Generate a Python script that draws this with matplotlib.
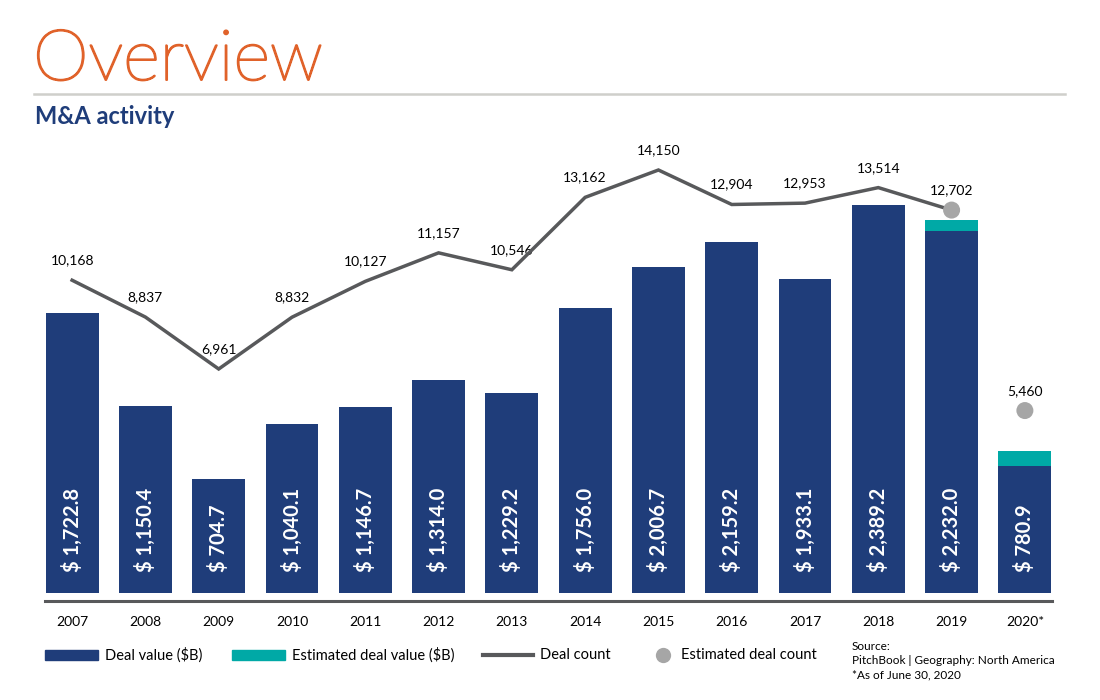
import numpy as np
import matplotlib
matplotlib.use("Agg")
from matplotlib import pyplot as plt
from matplotlib.patches import Rectangle
from matplotlib.lines import Line2D
import matplotlib.patheffects as pe

plt.rcParams['font.family'] = ['Lato', 'DejaVu Sans']

############################################
################## data ####################
############################################
years = ['2007', '2008', '2009', '2010', '2011', '2012', '2013',
         '2014', '2015', '2016', '2017', '2018', '2019', '2020*']
deal_value = [1722.8, 1150.4, 704.7, 1040.1, 1146.7, 1314.0, 1229.2,
              1756.0, 2006.7, 2159.2, 1933.1, 2389.2, 2232.0, 780.9]
# estimated part stacked on top (only 2019 and 2020)
est_value = [0, 0, 0, 0, 0, 0, 0, 0, 0, 0, 0, 0, 62, 92]
# deal count line 2007-2019
deal_count = [10168, 8837, 6961, 8832, 10127, 11157, 10546,
              13162, 14150, 12904, 12953, 13514, 12702]
# estimated deal count dots (2019 and 2020)
est_count_idx = [12, 13]
est_count = [12702, 5460]

navy = '#1F3D7A'
teal = '#00A9A6'
grey_line = '#58595B'
grey_dot = '#A6A6A6'
orange = '#E0622A'

############################################
################ figure ####################
############################################
fig = plt.figure(figsize=(11, 7), dpi=100)

# axes spans x 45..1052 px, y 130..601 px
ax = fig.add_axes([45/1100, 99/700, 1007/1100, 471/700])
x = np.arange(len(years))

ax.bar(x, deal_value, width=0.72, color=navy, zorder=2)
ax.bar(x, est_value, width=0.72, bottom=deal_value, color=teal, zorder=2)

ax.set_xlim(-0.37, len(years) - 1 + 0.37)
ax.set_ylim(-49, 2851)

for i, v in enumerate(deal_value):
    ax.text(x[i], 130, '$ {:,.1f}'.format(v), rotation=90, ha='center',
            va='bottom', color='white', fontsize=14.5, fontweight='bold',
            zorder=3)

for s in ['top', 'right', 'left']:
    ax.spines[s].set_visible(False)
ax.spines['bottom'].set_color(grey_line)
ax.spines['bottom'].set_linewidth(2.2)
ax.set_yticks([])
ax.set_xticks(x)
ax.set_xticklabels(years, fontsize=10)
ax.tick_params(axis='x', length=0, pad=11)

# deal count on a second scale
ax2 = ax.twinx()
ax2.set_ylim(-1420, 15595)
ax2.plot(x[:len(deal_count)], deal_count, color=grey_line, lw=2.5,
         zorder=4, solid_joinstyle='miter')
ax2.scatter(x[est_count_idx], est_count, s=150, color=grey_dot, zorder=5,
            edgecolors='none')
ax2.axis('off')

for i, c in enumerate(deal_count):
    ax2.annotate('{:,}'.format(c), (x[i], c), xytext=(0, 10),
                 textcoords='offset points', ha='center', va='bottom',
                 fontsize=10)
ax2.annotate('{:,}'.format(est_count[1]), (x[est_count_idx[1]], est_count[1]),
             xytext=(0, 10), textcoords='offset points', ha='center',
             va='bottom', fontsize=10)

############################################
############ titles / legend ###############
############################################
# thin face thickened a little to look like Lato Light
fig.text(33/1100, 1 - 80/700, 'Overview', fontsize=51, fontweight='light',
         color=orange, va='baseline',
         path_effects=[pe.withStroke(linewidth=1.4, foreground=orange)])
fig.add_artist(Line2D([34/1100, 1065/1100], [1 - 94/700, 1 - 94/700],
                      color='#CFCFCB', lw=1.8))
fig.text(35/1100, 1 - 124/700, 'M&A activity', fontsize=17,
         fontweight='bold', color=navy, va='baseline')

ly = 1 - 655/700
fig.add_artist(Rectangle((45/1100, 1 - 660/700), 53/1100, 10/700,
                         color=navy, transform=fig.transFigure))
fig.text(105/1100, ly, 'Deal value ($B)', fontsize=10.5, va='center')
fig.add_artist(Rectangle((232/1100, 1 - 660/700), 53/1100, 10/700,
                         color=teal, transform=fig.transFigure))
fig.text(292/1100, ly, 'Estimated deal value ($B)', fontsize=10.5, va='center')
fig.add_artist(Line2D([483/1100, 533/1100], [ly, ly], color=grey_line, lw=3))
fig.text(540/1100, ly, 'Deal count', fontsize=10.5, va='center')
fig.add_artist(Line2D([663/1100], [ly], marker='o', markersize=11,
                      color=grey_dot, markeredgewidth=0))
fig.text(681/1100, ly, 'Estimated deal count', fontsize=10.5, va='center')

fig.text(852/1100, 1 - 647/700, 'Source:', fontsize=8.5, va='center')
fig.text(852/1100, 1 - 661/700, 'PitchBook | Geography: North America',
         fontsize=8.5, va='center')
fig.text(852/1100, 1 - 675/700, '*As of June 30, 2020', fontsize=8.5,
         va='center')

fig.savefig('out.png', dpi=100)
